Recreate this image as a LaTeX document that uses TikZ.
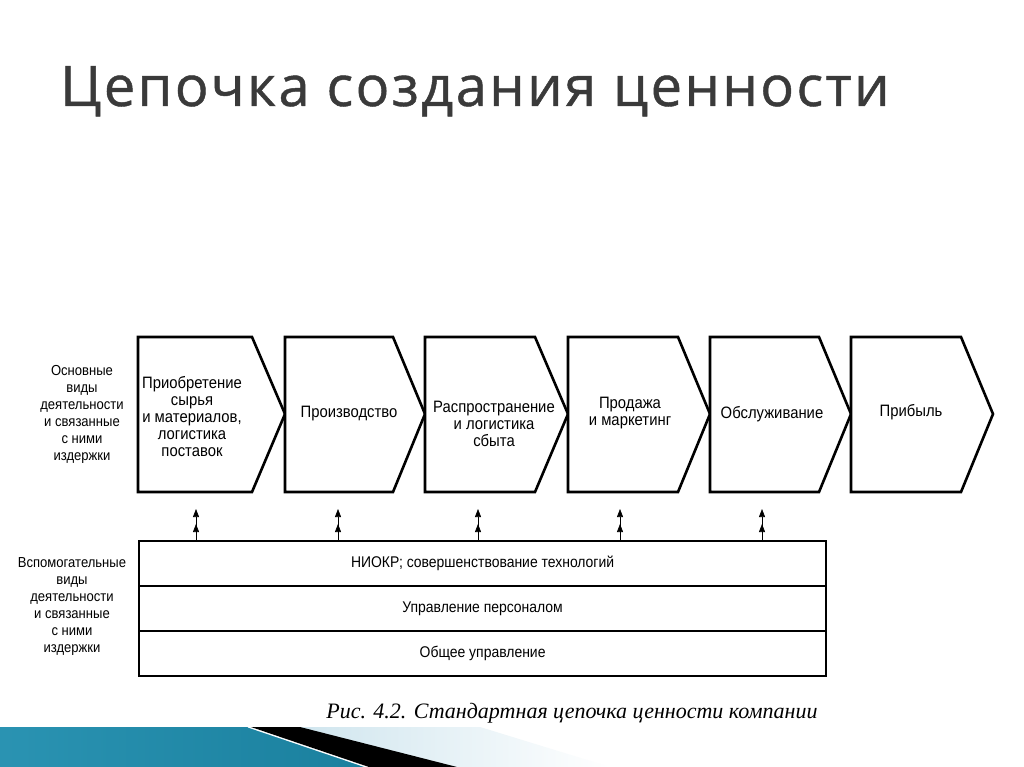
\documentclass[tikz,border=0pt]{standalone}
\usepackage{fontspec}
\setmainfont{Liberation Sans}
\newfontfamily\diagfont[FakeStretch=0.9]{Liberation Sans}
\newfontfamily\titlefont[LetterSpace=4.3,FakeBold=0.8]{Open Sans}
\newfontfamily\capfont{Liberation Serif}
\usetikzlibrary{arrows.meta}
\definecolor{titlegray}{HTML}{3A3A3A}
\definecolor{tealA}{HTML}{2A93B2}
\definecolor{tealB}{HTML}{5BBFD9}
\definecolor{tealC}{HTML}{1A809E}
\definecolor{paleblue}{HTML}{CFE5EE}
\begin{document}
\begin{tikzpicture}[x=1pt,y=-1pt,
  chev/.style={draw=black,line width=2.6pt,line join=miter,fill=white},
  chevtext/.style={align=center,font=\diagfont\fontsize{16.5}{17}\selectfont,inner sep=0pt},
  sidetext/.style={align=center,font=\diagfont\fontsize{14.5}{17}\selectfont,inner sep=0pt},
  rowbox/.style={draw=black,line width=2.2pt,minimum width=687pt,minimum height=45pt,inner sep=0pt,anchor=north west},
  rowtext/.style={font=\diagfont\fontsize{15.5}{17}\selectfont},
  suparrow/.style={line width=0.6pt,-{Triangle[width=6pt,length=8pt,sep=7pt]Triangle[width=6pt,length=8pt]}}
]
\useasboundingbox (0,0) rectangle (1024,767);
\fill[white] (0,0) rectangle (1024,767);

% title
\node[anchor=base west,inner sep=0pt,text=titlegray,font=\titlefont\fontsize{56}{60}\selectfont] (title) at (60,106) {Цепочка создания ценности};

% primary chevrons
\draw[chev] (138,337) -- (252,337) -- (285,414) -- (252,492) -- (138,492) -- cycle;
\draw[chev] (285,337) -- (393,337) -- (425,414) -- (393,492) -- (285,492) -- cycle;
\draw[chev] (425,337) -- (535,337) -- (568,414) -- (535,492) -- (425,492) -- cycle;
\draw[chev] (568,337) -- (678,337) -- (710,414) -- (678,492) -- (568,492) -- cycle;
\draw[chev] (710,337) -- (819,337) -- (851,414) -- (819,492) -- (710,492) -- cycle;
\draw[chev] (851,337) -- (961,337) -- (993,414) -- (961,492) -- (851,492) -- cycle;

\node[chevtext] (p1) at (192,417) {Приобретение\\сырья\\и материалов,\\логистика\\поставок};
\node[chevtext] (p2) at (349,414) {Производство};
\node[chevtext] (p3) at (494,424) {Распространение\\и логистика\\сбыта};
\node[chevtext] (p4) at (630,413) {Продажа\\и маркетинг};
\node[chevtext] (p5) at (772,414) {Обслуживание};
\node[chevtext] (p6) at (911,412) {Прибыль};

\node[sidetext] (mainlabel) at (82,414) {Основные\\виды\\деятельности\\и связанные\\с ними\\издержки};
\node[sidetext] (suplabel) at (72,607) {Вспомогательные\\виды\\деятельности\\и связанные\\с ними\\издержки};

% support rows
\node[rowbox] (r1) at (138,540) {};
\node[rowbox] (r2) at (138,585) {};
\node[rowbox] (r3) at (138,630) {};
\node[rowtext] (t1) at (r1.center) {НИОКР; совершенствование технологий};
\node[rowtext] (t2) at (r2.center) {Управление персоналом};
\node[rowtext] (t3) at (r3.center) {Общее управление};

% arrows
\coordinate (a1) at (196,509);
\coordinate (a2) at (338,509);
\coordinate (a3) at (478,509);
\coordinate (a4) at (620,509);
\coordinate (a5) at (762,509);
\foreach \i in {1,...,5}{
  \draw[suparrow] (r1.north -| a\i) -- (a\i);
}

% caption
\node[anchor=base,inner sep=0pt,font=\capfont\itshape\fontsize{22}{24}\selectfont] (cap) at (572,718) {Рис. 4.2. Стандартная цепочка ценности компании};

% bottom decoration
\shade[left color=paleblue,right color=white] (296,727) -- (480,727) -- (610,767) -- (440,767) -- cycle;
\shade[left color=tealA,middle color=tealB,right color=tealC] (0,727) -- (248,727) -- (366,767) -- (0,767) -- cycle;
\draw[white,line width=1pt] (248,727) -- (366,767);
\fill[black] (251,727) -- (300,727) -- (457,767) -- (369,767) -- cycle;
\end{tikzpicture}
\end{document}
